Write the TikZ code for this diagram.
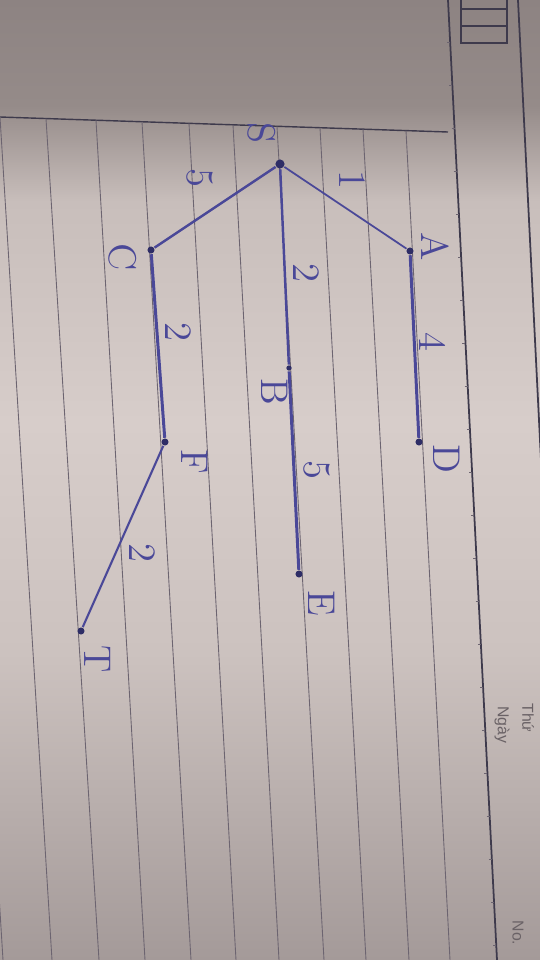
\documentclass[tikz,border=0pt]{standalone}
\usepackage{fontspec}
\newfontfamily\paperfont{Liberation Sans}
\usepackage{tikz}
\usetikzlibrary{positioning}
\definecolor{ink}{HTML}{4A4898}
\definecolor{dotink}{HTML}{2E2D66}
\definecolor{rule}{HTML}{6C6470}
\definecolor{margin}{HTML}{3E3A4C}
\definecolor{print}{HTML}{6A6266}
\definecolor{papertop}{HTML}{8D8382}
\definecolor{paperhead}{HTML}{958B89}
\definecolor{paperhigh}{HTML}{C8BEBB}
\definecolor{papermid}{HTML}{D7CDCA}
\definecolor{paperlow}{HTML}{CCC2BF}
\definecolor{paperbot}{HTML}{A49A99}
\pgfdeclareverticalshading{paper}{100bp}{color(0bp)=(paperbot); color(25bp)=(paperbot);
  color(41bp)=(paperlow); color(53bp)=(papermid); color(64.5bp)=(paperhigh);
  color(69.5bp)=(paperhead); color(75bp)=(papertop); color(100bp)=(papertop)}
\begin{document}
\begin{tikzpicture}[x=0.1mm,y=-0.1mm,
  vert/.style={circle,fill=dotink,inner sep=0pt,minimum size=2pt},
  edge/.style={ink,line width=0.7pt},
  lbl/.style={text=ink,font=\fontsize{11}{13}\selectfont,rotate=-90,inner sep=0pt},
  printed/.style={text=print,font=\paperfont\fontsize{4.5}{5}\selectfont,rotate=-90,inner sep=0pt}]
\useasboundingbox (0,0) rectangle (540,960);
% the page
\shade[shading=paper] (0,0) rectangle (540,960);
\begin{scope}
  \clip (0,0) rectangle (540,960);
  \draw[margin,line width=0.4pt] (0,117) -- (448,132);
  \foreach \t/\b in {-49/3,0/52,46/99,96/145,142/191,189/236,233/279,277/324,320/366,363/409,406/450}
    \draw[rule,line width=0.25pt] (\t,{117+0.0335*\t}) -- (\b,960);
  \draw[margin,line width=0.5pt] (448,0) -- (497,960);
  \draw[margin,line width=0.5pt] (518,0) -- (566,960);
  \foreach \k in {0,...,21}
    \draw[rule,line width=0.2pt] ({448+0.051*(42+43*\k)-3},{42+43*\k}) -- ({448+0.051*(42+43*\k)},{42+43*\k});
  \draw[margin,line width=0.4pt] (461,-5) rectangle (507,43);
  \draw[margin,line width=0.4pt] (461,9) -- (507,9) (461,26) -- (507,26);
\end{scope}
\node[printed] (thu) at (528,718) {Thứ};
\node[printed] (ngay) at (502,725) {Ngày};
\node[printed] (no) at (518,933) {No.};
% the graph
\node[vert,minimum size=2.6pt] (S) at (280,164) {};
\node[vert] (A) at (410,251) {};
\node[vert] (D) at (419,442) {};
\node[vert,minimum size=1.5pt] (B) at (289,368) {};
\node[vert] (E) at (299,574) {};
\node[vert] (C) at (151,250) {};
\node[vert] (F) at (165,442) {};
\node[vert] (T) at (81,631) {};
\draw[edge,line width=0.5pt] (S) -- (A);
\draw[edge,line width=0.85pt] (A) -- (D);
\draw[edge] (S) -- (B);
\draw[edge,line width=0.85pt] (B) -- (E);
\draw[edge] (S) -- (C);
\draw[edge,line width=0.85pt] (C) -- (F);
\draw[edge,line width=0.6pt] (F) -- (T);
% names
\node[lbl] (lS) at (262,133) {S};
\node[lbl] (lA) at (435,247) {A};
\node[lbl] (lD) at (447,459) {D};
\node[lbl] (lB) at (275,392) {B};
\node[lbl] (lE) at (322,603) {E};
\node[lbl] (lC) at (123,257) {C};
\node[lbl] (lF) at (195,462) {F};
\node[lbl] (lT) at (98,659) {T};
% weights
\node[lbl] (wSA) at (352,180) {1};
\node[lbl] (wAD) at (433,342) {4};
\node[lbl] (wSB) at (306,273) {2};
\node[lbl] (wBE) at (317,470) {5};
\node[lbl] (wSC) at (200,178) {5};
\node[lbl] (wCF) at (178,332) {2};
\node[lbl] (wFT) at (142,553) {2};
\end{tikzpicture}
\end{document}
